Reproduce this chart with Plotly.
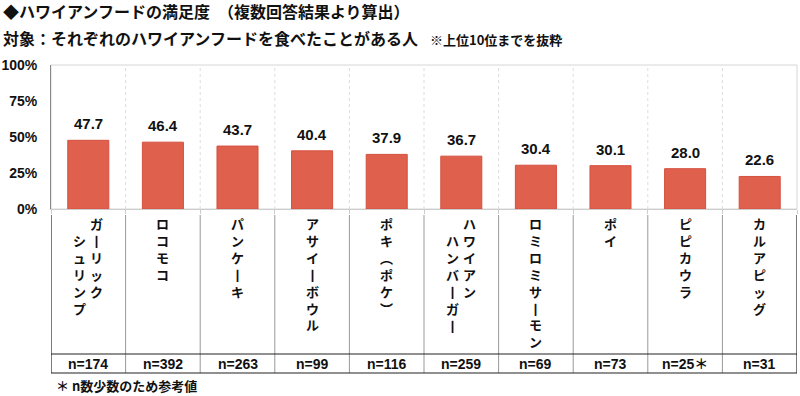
import plotly.graph_objects as go

# ---- data ----
categories = ["ガーリック\nシュリンプ", "ロコモコ", "パンケーキ", "アサイーボウル", "ポキ（ポケ）",
              "ハワイアン\nハンバーガー", "ロミロミサーモン", "ポイ", "ピピカウラ", "カルアピッグ"]
values = [47.7, 46.4, 43.7, 40.4, 37.9, 36.7, 30.4, 30.1, 28.0, 22.6]
n_values = [174, 392, 263, 99, 116, 259, 69, 73, 25, 31]
n_notes = ["", "", "", "", "", "", "", "", "＊", ""]
y_ticks = [0, 25, 50, 75, 100]
title1 = "◆ハワイアンフードの満足度　（複数回答結果より算出）"
title2 = "対象：それぞれのハワイアンフードを食べたことがある人"
title_note = "※上位10位までを抜粋"
footnote = "＊ n数少数のため参考値"

W, H = 800, 396
JP = "Noto Sans CJK JP"
NUM = "Liberation Sans, Noto Sans CJK JP"
BAR = "#DF604C"

def py(px):
    return 1 - px / H

x_idx = list(range(len(categories)))

fig = go.Figure()
fig.add_trace(go.Bar(
    x=x_idx, y=values, width=0.55,
    marker=dict(color=BAR, line=dict(color="#D4513F", width=1)),
    hoverinfo="skip",
))

# value labels
for i, v in zip(x_idx, values):
    fig.add_annotation(x=i, y=v, text=f"<b>{v:.1f}</b>", showarrow=False,
                       xref="x", yref="y", yanchor="bottom", yshift=6,
                       font=dict(family=NUM, size=15, color="#111"))

# plot area border (light gray) and dotted separators
fig.add_shape(type="rect", xref="x domain", yref="y domain", x0=0, x1=1, y0=0, y1=1,
              line=dict(color="#d6d6d6", width=1), layer="below")
for i in x_idx[:-1]:
    fig.add_shape(type="line", xref="x", yref="y domain", x0=i + 0.5, x1=i + 0.5, y0=0, y1=1,
                  line=dict(color="#dcdcdc", width=1, dash="dot"), layer="below")

# table below the chart
t_top, t_mid, t_bot = 215, 354, 373
for k in range(len(categories) + 1):
    xb = k - 0.5
    edge = k == 0 or k == len(categories)
    fig.add_shape(type="line", xref="x", yref="paper", x0=xb, x1=xb, y0=py(t_top), y1=py(t_bot),
                  line=dict(color="#222" if edge else "#999", width=1.2 if edge else 1))
for yy in (t_mid, t_bot):
    fig.add_shape(type="line", xref="x", yref="paper", x0=-0.5, x1=len(categories) - 0.5,
                  y0=py(yy), y1=py(yy), line=dict(color="#222", width=1.2))

VMAP = {"ー": "丨", "（": "︵", "）": "︶"}

def vertical(s):
    return "<br>".join(f"<b>{VMAP.get(c, c)}</b>" for c in s)

LBL_TOP = 212
for i, cat in zip(x_idx, categories):
    cols = cat.split("\n")
    if len(cols) == 1:
        fig.add_annotation(x=i, y=py(LBL_TOP), xref="x", yref="paper", text=vertical(cols[0]),
                           showarrow=False, xanchor="center", yanchor="top",
                           font=dict(family=JP, size=13, color="#111"))
    else:
        fig.add_annotation(x=i, y=py(LBL_TOP), xref="x", yref="paper", text=vertical(cols[0]),
                           showarrow=False, xanchor="center", yanchor="top", xshift=8,
                           font=dict(family=JP, size=13, color="#111"))
        fig.add_annotation(x=i, y=py(LBL_TOP), xref="x", yref="paper", text=vertical(cols[1]),
                           showarrow=False, xanchor="center", yanchor="top", xshift=-9, yshift=-17,
                           font=dict(family=JP, size=13, color="#111"))
    fig.add_annotation(x=i, y=py(364), xref="x", yref="paper",
                       text=f"<b>n={n_values[i]}{n_notes[i]}</b>", showarrow=False,
                       xanchor="center", yanchor="middle",
                       font=dict(family=NUM, size=14, color="#111"))

# titles and notes
fig.add_annotation(x=1 / W, y=py(11), xref="paper", yref="paper", text=f"<b>{title1}</b>",
                   showarrow=False, xanchor="left", yanchor="middle",
                   font=dict(family=JP, size=16, color="#111"))
fig.add_annotation(x=1 / W, y=py(38), xref="paper", yref="paper", text=f"<b>{title2}</b>",
                   showarrow=False, xanchor="left", yanchor="middle",
                   font=dict(family=JP, size=16, color="#111"))
fig.add_annotation(x=428 / W, y=py(39), xref="paper", yref="paper", text=f"<b>{title_note}</b>",
                   showarrow=False, xanchor="left", yanchor="middle",
                   font=dict(family=JP, size=13, color="#111"))
fig.add_annotation(x=54 / W, y=py(385), xref="paper", yref="paper", text=f"<b>{footnote}</b>",
                   showarrow=False, xanchor="left", yanchor="middle",
                   font=dict(family=JP, size=13, color="#111"))

fig.update_layout(
    width=W, height=H, margin=dict(l=0, r=0, t=0, b=0, autoexpand=False),
    paper_bgcolor="white", plot_bgcolor="white", showlegend=False,
    bargap=0,
    xaxis=dict(domain=[51 / W, 797 / W], range=[-0.5, len(categories) - 0.5],
               tickmode="array", tickvals=[k - 0.5 for k in range(len(categories) + 1)],
               ticks="outside", ticklen=4, tickcolor="#cccccc", showticklabels=False,
               showgrid=False, zeroline=False, showline=True, linecolor="#cccccc",
               fixedrange=True, automargin=False),
    yaxis=dict(domain=[py(209), py(65)], range=[0, 100], tickmode="array", tickvals=y_ticks,
               ticktext=[f"<b>{t}%</b>" for t in y_ticks], ticks="", ticklabelstandoff=10,
               tickfont=dict(family=NUM, size=14, color="#111"),
               showgrid=False, zeroline=False, showline=True, linecolor="#888888", linewidth=1,
               fixedrange=True, automargin=False),
)

fig.write_html("out.html", config={"displayModeBar": False, "staticPlot": True},
               post_script="document.body.style.margin='0';document.body.style.overflow='hidden';")
